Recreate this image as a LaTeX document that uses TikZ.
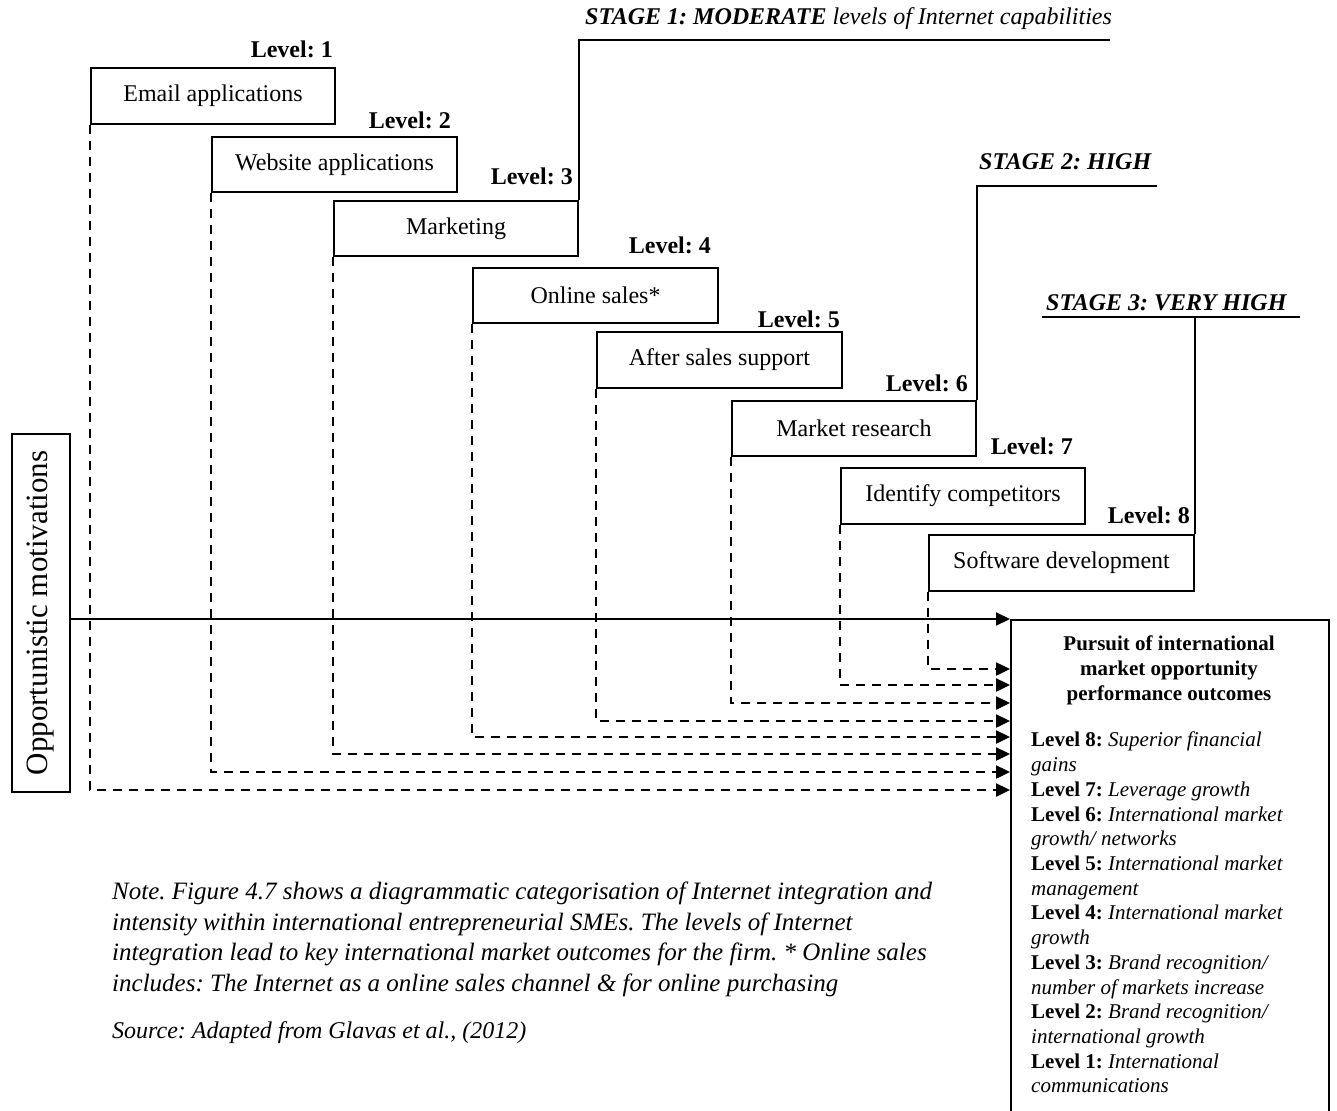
\documentclass[tikz,border=0pt]{standalone}
\usepackage{fontspec}
\setmainfont{Liberation Serif}
\usetikzlibrary{arrows.meta}
\newcommand{\setfs}[2]{\fontsize{#1}{#2}\selectfont}

\begin{document}
\frenchspacing
\begin{tikzpicture}[x=1pt,y=-1pt,
  lvbox/.style={draw,line width=2pt,anchor=north west,inner sep=0pt,
    font=\setfs{24}{28}},
  lvlabel/.style={anchor=base east,inner sep=0pt,font=\setfs{24}{28}\bfseries},
  stagelabel/.style={anchor=base west,inner sep=0pt,font=\setfs{24}{28}\itshape},
  stageline/.style={line width=2pt},
  tip/.style={-{Triangle[length=14pt,width=13pt]}},
  solidarrow/.style={tip,line width=2pt},
  dasharrow/.style={tip,line width=2.4pt,dash pattern=on 9pt off 7pt}]

\useasboundingbox (0,0) rectangle (1337,1110);

% integration levels, one box per level
\node[lvbox,minimum width=244,minimum height=56] (b1) at (90,67)  {Email applications};
\node[lvbox,minimum width=245,minimum height=55] (b2) at (211,136) {Website applications};
\node[lvbox,minimum width=244,minimum height=55] (b3) at (333,200) {Marketing};
\node[lvbox,minimum width=245,minimum height=55] (b4) at (472,267) {Online sales*};
\node[lvbox,minimum width=245,minimum height=56] (b5) at (596,331) {After sales support};
\node[lvbox,minimum width=244,minimum height=55] (b6) at (731,400) {Market research};
\node[lvbox,minimum width=244,minimum height=56] (b7) at (840,467) {Identify competitors};
\node[lvbox,minimum width=265,minimum height=56] (b8) at (928,534) {Software development};

% level numbers
\node[lvlabel] (l1) at (333,58)  {Level: 1};
\node[lvlabel] (l2) at (451,129) {Level: 2};
\node[lvlabel] (l3) at (573,185) {Level: 3};
\node[lvlabel] (l4) at (711,253) {Level: 4};
\node[lvlabel] (l5) at (840,327) {Level: 5};
\node[lvlabel] (l6) at (968,391) {Level: 6};
\node[lvlabel] (l7) at (1073,454) {Level: 7};
\node[lvlabel] (l8) at (1190,523) {Level: 8};

% stages
\node[stagelabel] (s1t) at (585,25) {\textbf{STAGE 1: MODERATE} levels of Internet capabilities};
\node[stagelabel] (s2t) at (979,170) {\textbf{STAGE 2: HIGH}};
\node[stagelabel] (s3t) at (1046,310) {\textbf{STAGE 3: VERY HIGH}};
\coordinate (s1) at (1110,40);
\coordinate (s2) at (1157,186);
\coordinate (s3a) at (1042,317);
\coordinate (s3b) at (1300,317);
\draw[stageline] (b3.north east) |- (s1);
\draw[stageline] (b6.north east) |- (s2);
\draw[stageline] (s3a) -- (s3b);
\draw[stageline] (b8.north east) -- (b8.north east |- s3a);

% motivation box
\node[draw,line width=2pt,rotate=90,minimum width=358,minimum height=58,inner sep=0pt,
  font=\setfs{31}{34}] (om) at (41,613) {Opportunistic motivations};

% outcomes box
\node[draw,line width=2pt,anchor=north west,minimum width=318,minimum height=510,inner sep=0pt]
  (out) at (1010,619) {};
\node[anchor=north,align=center,inner sep=0pt,font=\setfs{21}{24.6}\bfseries] (outt)
  at (1169,636) {Pursuit of international\\market opportunity\\performance outcomes};
\node[anchor=north west,align=left,inner sep=0pt,font=\setfs{21}{24.7}] (outl) at (1031,732)
  {\textbf{Level 8:} \textit{Superior financial}\\
   \textit{gains}\\
   \textbf{Level 7:} \textit{Leverage growth}\\
   \textbf{Level 6:} \textit{International market}\\
   \textit{growth/ networks}\\
   \textbf{Level 5:} \textit{International market}\\
   \textit{management}\\
   \textbf{Level 4:} \textit{International market}\\
   \textit{growth}\\
   \textbf{Level 3:} \textit{Brand recognition/}\\
   \textit{number of markets increase}\\
   \textbf{Level 2:} \textit{Brand recognition/}\\
   \textit{international growth}\\
   \textbf{Level 1:} \textit{International}\\
   \textit{communications}};

% connectors into the outcomes box
\coordinate (e8) at (1010,669);
\coordinate (e7) at (1010,685);
\coordinate (e6) at (1010,703);
\coordinate (e5) at (1010,721);
\coordinate (e4) at (1010,737);
\coordinate (e3) at (1010,754);
\coordinate (e2) at (1010,772);
\coordinate (e1) at (1010,790);
\draw[solidarrow] (om.south |- out.north west) -- (out.north west);
\draw[dasharrow] (b8.south west) |- (e8);
\draw[dasharrow] (b7.south west) |- (e7);
\draw[dasharrow] (b6.south west) |- (e6);
\draw[dasharrow] (b5.south west) |- (e5);
\draw[dasharrow] (b4.south west) |- (e4);
\draw[dasharrow] (b3.south west) |- (e3);
\draw[dasharrow] (b2.south west) |- (e2);
\draw[dasharrow] (b1.south west) |- (e1);

% note
\node[anchor=north west,align=left,inner sep=0pt,font=\setfs{25}{30.5}\itshape] (note) at (112,882)
  {Note. Figure 4.7 shows a diagrammatic categorisation of Internet integration and\\
   intensity within international entrepreneurial SMEs. The levels of Internet\\
   integration lead to key international market outcomes for the firm. * Online sales\\
   includes: The Internet as a online sales channel \& for online purchasing};
\node[anchor=base west,inner sep=0pt,font=\setfs{24}{28}\itshape] (src) at (112,1038)
  {Source: Adapted from Glavas et al., (2012)};
\end{tikzpicture}
\end{document}
